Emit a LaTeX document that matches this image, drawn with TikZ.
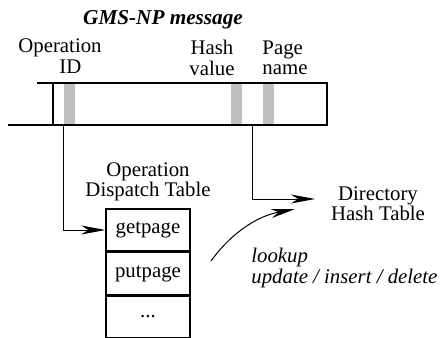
\documentclass[tikz,border=0pt]{standalone}
\usepackage{fontspec}
\setmainfont{Liberation Serif}
\usetikzlibrary{positioning,arrows.meta}
\tikzset{
  lbl/.style={align=center,inner sep=0pt,font=\fontsize{10.4}{10.2}\selectfont},
  field/.style={fill=black!25,minimum width=5.5pt,minimum height=21pt,inner sep=0pt},
  entry/.style={draw,line width=0.7pt,minimum width=42pt,minimum height=21pt,inner sep=0pt,
    font=\fontsize{10.4}{12}\selectfont},
  link/.style={line width=0.5pt,-{Stealth[length=12pt,width=4.5pt,inset=3.5pt]}}
}

\begin{document}
\begin{tikzpicture}[x=0.5pt,y=-0.5pt]
\useasboundingbox (0,0) rectangle (440,338);

% the message and its fields
\node[lbl,anchor=base,font=\fontsize{10.6}{12}\selectfont\bfseries\itshape] (title) at (163,24) {GMS-NP message};
\node[lbl,align=left] (opid) at (60,56) {Operation\\\hspace*{20.5pt}ID};
\node[lbl] (hashval) at (212,58) {Hash\\value};
\node[lbl,align=left] (pagename) at (285,58) {Page\\name};

\node[field] (opbar) at (69.5,104) {};
\node[field] (hashbar) at (236.5,104) {};
\node[field] (pagebar) at (268.5,104) {};

\draw[line width=1pt] (37,83) -- (327,83) -- (327,125) -- (8,125);
\draw[line width=1.3pt] (53,83) -- (53,125);

% dispatch table
\node[lbl] (optable) at (148,182) {Operation\\Dispatch Table};
\node[entry] (getpage) at (148,230) {getpage};
\node[entry,below=0pt of getpage] (putpage) {putpage};
\node[entry,below=0pt of putpage] (more) {...};

% directory
\node[lbl] (dirtable) at (378,204) {Directory\\Hash Table};
\node[lbl,align=left,anchor=west,font=\fontsize{10.4}{8.6}\selectfont\itshape] (ops) at (251,268) {lookup\\update / insert / delete};

\coordinate (opfoot) at (63,125);
\coordinate (hashfoot) at (252,125);
\coordinate (dirin) at (315,199);
\coordinate (curvestart) at (211,261);
\coordinate (curveend) at (295,209);

\draw[link] (opfoot) |- (getpage.west);
\draw[link] (hashfoot) |- (dirin);
\draw[link] (curvestart) .. controls (232,232) and (258,216) .. (curveend);
\end{tikzpicture}
\end{document}
